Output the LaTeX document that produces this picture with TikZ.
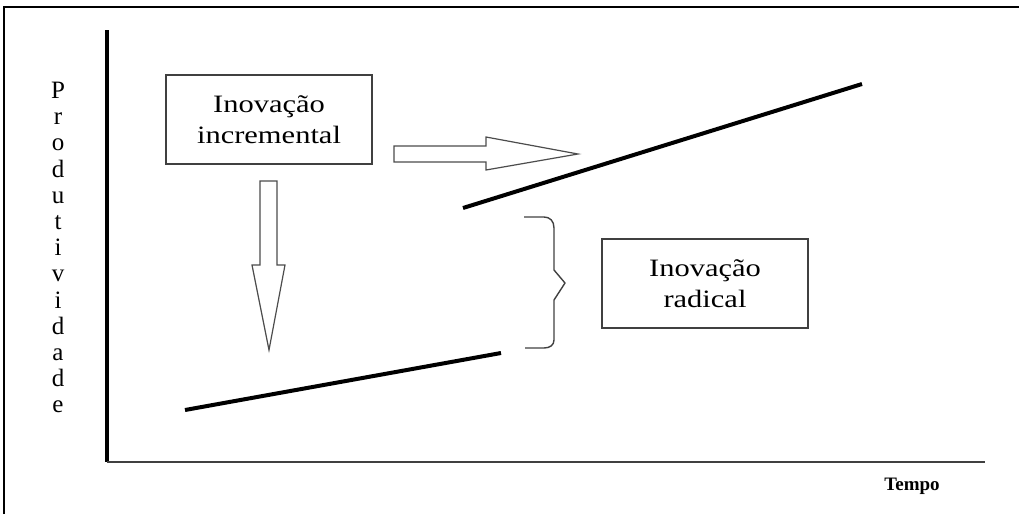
\documentclass[tikz,border=0pt]{standalone}
\usepackage{fontspec}
\setmainfont{Liberation Serif}
\newfontfamily\boxfont[FakeStretch=1.22]{Liberation Serif}
\begin{document}
\begin{tikzpicture}[x=1pt,y=-1pt,
  frame/.style={line width=2pt,black},
  yaxis/.style={line width=3.5pt,black},
  xaxis/.style={line width=2pt,black!75},
  trend/.style={line width=4pt,black},
  fatarrow/.style={draw=black!70,line width=1.2pt,fill=white},
  brace/.style={draw=black!75,line width=1.4pt,line join=round},
  labelbox/.style={draw=black!75,line width=1.4pt,minimum width=206pt,minimum height=89pt,
    inner sep=0pt,align=center,font=\boxfont\fontsize{25}{31}\selectfont},
  axislabel/.style={inner sep=0pt,align=center,font=\fontsize{25}{26.2}\selectfont}]
\useasboundingbox (0,0) rectangle (1019,515);
% frame (top and left only)
\draw[frame] (4,514) -- (4,7) -- (1019,7);
% axes
\coordinate (origin) at (107,462);
\coordinate (ytop) at (107,30);
\coordinate (xend) at (985,462);
\draw[yaxis] (ytop) -- (origin);
\draw[xaxis] (origin) -- (xend);
% axis labels
\node[axislabel,anchor=north] (prod) at (58,82) {P\\r\\o\\d\\u\\t\\i\\v\\i\\d\\a\\d\\e};
\node[inner sep=0pt,anchor=base,font=\bfseries\fontsize{19}{22}\selectfont] (tempo) at (912,490) {Tempo};
% boxes
\node[labelbox] (inc) at (269,119.5) {Inovação\\incremental};
\node[labelbox] (rad) at (705,283.5) {Inovação\\radical};
% trend lines
\coordinate (l1a) at (185,410);
\coordinate (l1b) at (501,353);
\coordinate (l2a) at (463,208);
\coordinate (l2b) at (862,84);
\draw[trend] (l1a) -- (l1b);
\draw[trend] (l2a) -- (l2b);
% right block arrow
\draw[fatarrow] (394,146) -- (486,146) -- (486,137) -- (578,154) -- (486,170) -- (486,162) -- (394,162) -- cycle;
% down block arrow
\draw[fatarrow] (260,181) -- (277,181) -- (277,265) -- (285,265) -- (269,350) -- (252,265) -- (260,265) -- cycle;
% brace
\draw[brace] (524,217) -- (544,217) .. controls (550,217) and (554,221) .. (554,228)
  -- (554,270) -- (565,283) -- (554,300) -- (554,340)
  .. controls (554,345) and (550,348) .. (544,348) -- (525,348);
\end{tikzpicture}
\end{document}
